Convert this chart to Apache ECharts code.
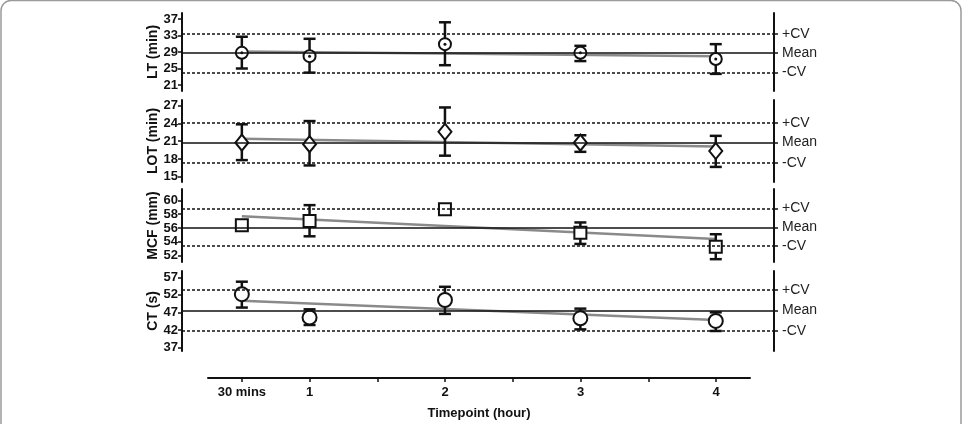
<!DOCTYPE html>
<html>
<head>
<meta charset="utf-8">
<script src="https://cdn.jsdelivr.net/npm/echarts@6/dist/echarts.min.js"></script>
<style>
  html, body { margin: 0; padding: 0; background: #fff; }
  #chart { width: 963px; height: 424px; }
</style>
</head>
<body>
<div id="chart"></div>
<script>
// time points (hours) and their tick labels
var hours = [0.5, 1, 2, 3, 4];
var hourLabels = ['30 mins', '1', '2', '3', '4'];
var hourTicks = [0.5, 1, 1.5, 2, 2.5, 3, 3.5, 4];

// LT (min)
var ltValue = [28.8, 28.0, 30.9, 28.8, 27.3];
var ltLow   = [25.0, 24.0, 25.8, 26.8, 23.7];
var ltHigh  = [32.7, 32.2, 36.2, 30.5, 30.9];
var ltRef   = [24.0, 28.8, 33.4];   // -CV, Mean, +CV
var ltFit   = [29.1, 28.0];         // regression at 30 mins and 4 h
var ltTicks = [21, 25, 29, 33, 37];

// LOT (min)
var lotValue = [20.75, 20.5, 22.6, 20.75, 19.35];
var lotLow   = [17.8, 16.9, 18.55, 19.2, 16.65];
var lotHigh  = [23.85, 24.4, 26.7, 22.0, 21.9];
var lotRef   = [17.3, 20.8, 24.1];
var lotFit   = [21.4, 20.1];
var lotTicks = [15, 18, 21, 24, 27];

// MCF (mm)
var mcfValue = [56.4, 57.0, 58.7, 55.3, 53.3];
var mcfLow   = [null, 54.8, null, 53.7, 51.5];
var mcfHigh  = [null, 59.3, null, 56.8, 55.1];
var mcfRef   = [53.4, 56.1, 58.85];
var mcfFit   = [57.7, 54.4];
var mcfTicks = [52, 54, 56, 58, 60];

// CT (s)
var ctValue = [52.2, 45.6, 50.55, 45.35, 44.6];
var ctLow   = [48.4, 43.45, 46.6, 42.2, 41.75];
var ctHigh  = [55.75, 47.9, 54.3, 48.1, 47.05];
var ctRef   = [41.8, 47.6, 53.4];
var ctFit   = [50.35, 44.9];
var ctTicks = [37, 42, 47, 52, 57];

var FONT = "'Liberation Sans', Arial, Helvetica, sans-serif";
var INK = '#111';

var panels = [
  { name: 'LT (min)',  value: ltValue,  low: ltLow,  high: ltHigh,  ref: ltRef,  fit: ltFit,  ticks: ltTicks,
    top: 13,  height: 78, min: 19.55, max: 38.45, symbol: 'circle',  size: 12, dot: true },
  { name: 'LOT (min)', value: lotValue, low: lotLow, high: lotHigh, ref: lotRef, fit: lotFit, ticks: lotTicks,
    top: 100, height: 82, min: 14.1,  max: 27.96, symbol: 'diamond', size: [13, 16], dot: false },
  { name: 'MCF (mm)',  value: mcfValue, low: mcfLow, high: mcfHigh, ref: mcfRef, fit: mcfFit, ticks: mcfTicks,
    top: 189, height: 73, min: 51.09, max: 61.63, symbol: 'rect',    size: 12, dot: false },
  { name: 'CT (s)',    value: ctValue,  low: ctLow,  high: ctHigh,  ref: ctRef,  fit: ctFit,  ticks: ctTicks,
    top: 271, height: 80, min: 36.06, max: 58.79, symbol: 'circle',  size: 14, dot: false }
];

var grid = [], xAxis = [], yAxis = [], series = [];

function errorBar(params, api) {
  var x = api.value(0);
  var lo = api.coord([x, api.value(1)]);
  var hi = api.coord([x, api.value(2)]);
  var hw = 6;
  var st = { stroke: INK, lineWidth: 2.5 };
  return {
    type: 'group',
    children: [
      { type: 'line', shape: { x1: lo[0], y1: lo[1], x2: hi[0], y2: hi[1] }, style: st },
      { type: 'line', shape: { x1: lo[0] - hw, y1: lo[1], x2: lo[0] + hw, y2: lo[1] }, style: st },
      { type: 'line', shape: { x1: hi[0] - hw, y1: hi[1], x2: hi[0] + hw, y2: hi[1] }, style: st }
    ]
  };
}

panels.forEach(function (p, i) {
  grid.push({ left: 182, right: 189, top: p.top, height: p.height });
  xAxis.push({ type: 'value', gridIndex: i, min: 0.058, max: 4.43, show: false });
  // left axis with values
  yAxis.push({
    type: 'value', gridIndex: i, min: p.min, max: p.max,
    name: p.name, nameLocation: 'middle', nameGap: 22, nameRotate: 90, nameMoveOverlap: false,
    nameTextStyle: { fontFamily: FONT, fontWeight: 'bold', fontSize: 14, color: INK },
    axisLine: { show: true, lineStyle: { color: INK, width: 2 } },
    axisTick: { show: true, length: 4, customValues: p.ticks, lineStyle: { color: INK, width: 1.5 } },
    axisLabel: { customValues: p.ticks, margin: 4, fontFamily: FONT, fontWeight: 'bold', fontSize: 13, color: INK },
    splitLine: { show: false }
  });
  // right axis with -CV / Mean / +CV
  var refLabels = {};
  refLabels[p.ref[0]] = '-CV';
  refLabels[p.ref[1]] = 'Mean';
  refLabels[p.ref[2]] = '+CV';
  yAxis.push({
    type: 'value', gridIndex: i, position: 'right', min: p.min, max: p.max,
    axisLine: { show: true, lineStyle: { color: INK, width: 2 } },
    axisTick: { show: true, length: 4, customValues: p.ref, lineStyle: { color: INK, width: 1.5 } },
    axisLabel: {
      customValues: p.ref, margin: 8, fontFamily: FONT, fontSize: 14, color: '#222',
      formatter: function (v) { return refLabels[v] || ''; }
    },
    splitLine: { show: false }
  });

  var xi = i, yi = i * 2;
  // reference lines
  series.push({
    type: 'line', xAxisIndex: xi, yAxisIndex: yi, data: [], z: 1, silent: true,
    markLine: {
      silent: true, symbol: ['none', 'none'], label: { show: false },
      data: [
        { yAxis: p.ref[0], lineStyle: { type: [3, 2], color: INK, width: 1.5 } },
        { yAxis: p.ref[1], lineStyle: { type: 'solid', color: INK, width: 1.5 } },
        { yAxis: p.ref[2], lineStyle: { type: [3, 2], color: INK, width: 1.5 } }
      ]
    }
  });
  // regression line
  series.push({
    type: 'line', xAxisIndex: xi, yAxisIndex: yi, z: 2, silent: true,
    symbol: 'none', lineStyle: { color: '#8a8a8a', width: 2.5 },
    data: [[hours[0], p.fit[0]], [hours[hours.length - 1], p.fit[1]]]
  });
  // error bars
  var bars = [];
  hours.forEach(function (h, k) {
    if (p.low[k] != null && p.high[k] != null) bars.push([h, p.low[k], p.high[k]]);
  });
  series.push({
    type: 'custom', xAxisIndex: xi, yAxisIndex: yi, z: 3, silent: true,
    renderItem: errorBar, data: bars
  });
  // markers
  series.push({
    type: 'scatter', xAxisIndex: xi, yAxisIndex: yi, z: 4, silent: true,
    symbol: p.symbol, symbolSize: p.size,
    itemStyle: { color: '#fff', borderColor: INK, borderWidth: 2, opacity: 1 },
    data: hours.map(function (h, k) { return [h, p.value[k]]; })
  });
  if (p.dot) {
    series.push({
      type: 'scatter', xAxisIndex: xi, yAxisIndex: yi, z: 5, silent: true,
      symbol: 'circle', symbolSize: 3,
      itemStyle: { color: INK, opacity: 1 },
      data: hours.map(function (h, k) { return [h, p.value[k]]; })
    });
  }
});

// shared time axis at the bottom
grid.push({ left: 208, right: 213, top: 377, height: 1 });
xAxis.push({
  type: 'value', gridIndex: 4, min: 0.25, max: 4.25, position: 'bottom',
  name: 'Timepoint (hour)', nameLocation: 'middle', nameGap: 29,
  nameTextStyle: { fontFamily: FONT, fontWeight: 'bold', fontSize: 13, color: INK },
  axisLine: { show: true, onZero: false, lineStyle: { color: INK, width: 2 } },
  axisTick: { show: true, length: 4, customValues: hourTicks, lineStyle: { color: INK, width: 1.5 } },
  axisLabel: {
    customValues: hours, margin: 8, fontFamily: FONT, fontWeight: 'bold', fontSize: 13, color: INK,
    formatter: function (v) { var k = hours.indexOf(v); return k >= 0 ? hourLabels[k] : ''; }
  },
  splitLine: { show: false }
});
yAxis.push({ type: 'value', gridIndex: 4, show: false, min: 0, max: 1 });

var chart = echarts.init(document.getElementById('chart'), null, { renderer: 'canvas' });
chart.setOption({
  animation: false,
  backgroundColor: '#fff',
  grid: grid,
  xAxis: xAxis,
  yAxis: yAxis,
  series: series,
  graphic: [{
    type: 'rect', silent: true, z: 100,
    shape: { x: 1, y: 0.5, width: 960, height: 440, r: 10 },
    style: { fill: 'none', stroke: '#9a9a9a', lineWidth: 1.5 }
  }]
});
</script>
</body>
</html>
